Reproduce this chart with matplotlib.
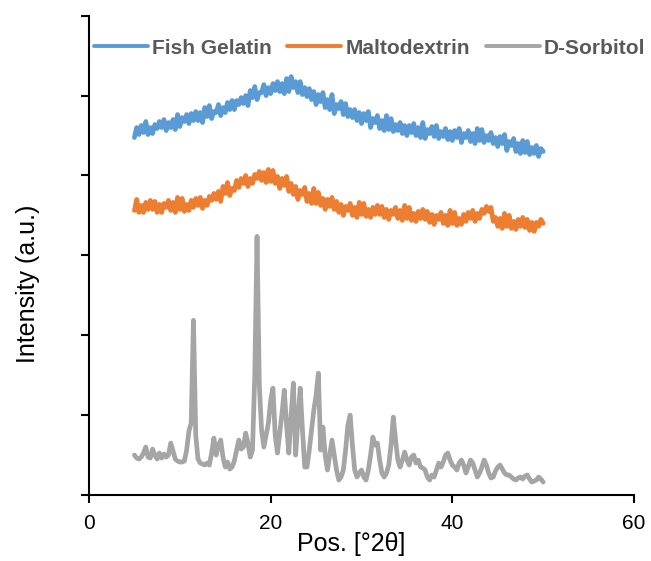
import numpy as np
import matplotlib
matplotlib.use("Agg")
import matplotlib.pyplot as plt

plt.rcParams['font.family'] = ['Liberation Sans', 'DejaVu Sans']

# 2-theta grid start and step (degrees)
theta_start = 5.0
theta_step = 0.25

# Intensities (a.u.), one value per 0.25 deg from 5 to 50 deg
fish_gelatin = [
    358, 368, 361, 370, 363, 374, 361, 368, 362, 371, 367, 374, 368, 376, 365, 373,
    368, 376, 366, 381, 369, 378, 374, 381, 372, 382, 375, 384, 375, 383, 373, 388,
    379, 390, 377, 384, 383, 391, 380, 388, 383, 393, 386, 395, 386, 395, 391, 398,
    392, 400, 390, 405, 398, 409, 396, 403, 403, 411, 400, 408, 402, 412, 405, 414,
    404, 412, 402, 417, 404, 419, 408, 414, 403, 414, 401, 408, 399, 407, 396, 404,
    391, 401, 394, 403, 388, 396, 386, 401, 382, 391, 387, 394, 381, 392, 379, 386,
    378, 386, 375, 383, 372, 382, 375, 384, 368, 377, 373, 380, 367, 375, 365, 380,
    366, 377, 364, 371, 365, 373, 362, 370, 360, 370, 363, 372, 360, 368, 358, 373,
    357, 366, 362, 369, 359, 370, 357, 364, 359, 367, 356, 364, 355, 365, 358, 367,
    353, 362, 358, 365, 354, 362, 352, 367, 355, 366, 353, 360, 355, 363, 352, 358,
    349, 359, 352, 361, 345, 354, 350, 357, 344, 352, 342, 355, 343, 354, 341, 348,
    342, 350, 339, 347, 344,
]

maltodextrin = [
    285, 296, 283, 290, 283, 293, 286, 295, 286, 294, 283, 291, 283, 292, 288, 295,
    285, 293, 283, 298, 286, 297, 284, 291, 285, 295, 288, 297, 290, 298, 287, 295,
    290, 299, 295, 302, 296, 304, 294, 309, 302, 313, 300, 307, 305, 315, 308, 317,
    312, 320, 309, 317, 312, 321, 317, 324, 315, 323, 313, 326, 314, 325, 312, 319,
    307, 317, 310, 319, 304, 312, 301, 309, 296, 305, 301, 308, 294, 302, 292, 307,
    292, 303, 290, 297, 286, 296, 289, 298, 286, 294, 283, 291, 280, 289, 285, 292,
    280, 288, 278, 293, 281, 292, 279, 286, 278, 288, 281, 290, 281, 289, 278, 286,
    276, 285, 281, 288, 277, 285, 275, 290, 277, 288, 275, 282, 274, 284, 277, 286,
    276, 284, 273, 281, 271, 280, 276, 283, 272, 280, 270, 285, 272, 283, 270, 277,
    271, 281, 274, 283, 277, 285, 274, 282, 277, 286, 282, 289, 284, 288, 274, 278,
    269, 277, 267, 282, 269, 280, 267, 274, 266, 276, 269, 278, 268, 276, 265, 273,
    264, 273, 269, 276, 272,
]

d_sorbitol = [
    40, 37, 36, 38, 42, 48, 38, 37, 46, 40, 36, 42, 37, 41, 38, 40,
    52, 44, 36, 34, 33, 33, 34, 45, 64, 72, 175, 60, 36, 32, 31, 30,
    32, 30, 42, 57, 40, 50, 55, 38, 28, 33, 26, 28, 34, 45, 55, 46,
    48, 62, 52, 38, 45, 120, 259, 110, 65, 48, 60, 72, 95, 107, 60, 42,
    62, 82, 105, 70, 42, 80, 112, 40, 75, 107, 65, 28, 28, 45, 65, 85,
    100, 122, 45, 68, 40, 25, 40, 55, 40, 25, 15, 18, 25, 45, 70, 80,
    50, 25, 18, 22, 25, 18, 15, 25, 40, 58, 50, 52, 35, 22, 18, 22,
    30, 50, 78, 55, 35, 28, 35, 43, 35, 30, 38, 40, 32, 35, 28, 27,
    25, 18, 15, 20, 18, 25, 32, 28, 33, 40, 42, 35, 30, 28, 25, 32,
    35, 30, 22, 28, 35, 32, 25, 18, 22, 28, 35, 30, 22, 17, 18, 24,
    28, 30, 26, 22, 20, 20, 18, 16, 15, 17, 18, 16, 19, 20, 16, 13,
    14, 15, 18, 16, 13,
]

series_names = ["Fish Gelatin", "Maltodextrin", "D-Sorbitol"]
series_values = [fish_gelatin, maltodextrin, d_sorbitol]
series_colors = ["#5B9BD5", "#ED7D31", "#A5A5A5"]

x_ticks = [0, 20, 40, 60]
y_ticks = [0, 80, 160, 240, 320, 400, 480]

fig = plt.figure(figsize=(6.51, 5.61), dpi=100)
ax = fig.add_axes([89 / 651, 1 - 495 / 561, 545 / 651, 479.3 / 561])

for name, vals, col in zip(series_names, series_values, series_colors):
    x = theta_start + theta_step * np.arange(len(vals))
    ax.plot(x, vals, color=col, lw=3.4, label=name,
            solid_joinstyle='round', solid_capstyle='round')

ax.set_xlim(0, 60)
ax.set_ylim(0, 480)
ax.set_xticks(x_ticks)
ax.set_yticks(y_ticks)
ax.set_yticklabels([])
for s in ['top', 'right']:
    ax.spines[s].set_visible(False)
for s in ['left', 'bottom']:
    ax.spines[s].set_linewidth(1.5)
    ax.spines[s].set_color('black')
ax.tick_params(axis='both', direction='out', length=6, width=1.5, color='black')
ax.tick_params(axis='x', labelsize=15, pad=8, labelcolor='black')

fig.text(351.5 / 651, 1 - 544 / 561, "Pos. [°2θ]", fontsize=18,
         ha='center', va='center')
fig.text(28 / 651, 1 - 284 / 561, "Intensity (a.u.)", fontsize=18,
         rotation=90, ha='center', va='center')

leg = fig.legend(loc='center', bbox_to_anchor=(369.5 / 651, 1 - 48 / 561),
                 ncol=3, frameon=False, handlelength=2.6, handletextpad=0.2,
                 columnspacing=0.75, borderpad=0, borderaxespad=0,
                 prop={'weight': 'bold', 'size': 15})
for t in leg.get_texts():
    t.set_color('#595959')
for h in leg.get_lines():
    h.set_linewidth(2.8)

fig.savefig("out.png", dpi=100)
